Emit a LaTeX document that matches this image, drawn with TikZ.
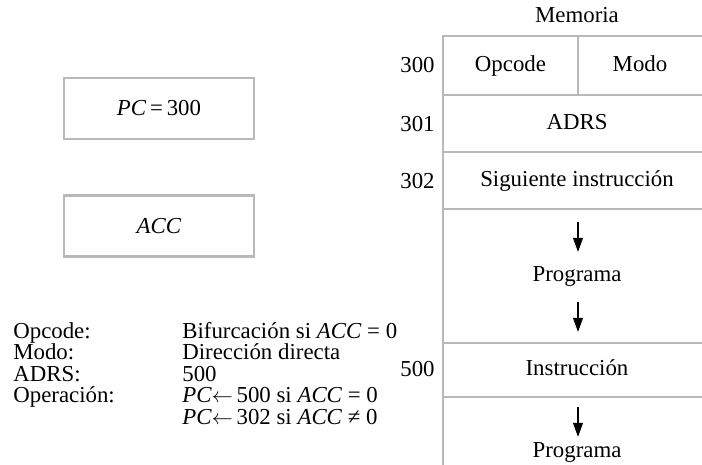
\documentclass[tikz,border=0pt]{standalone}
\usepackage{fontspec}
\setmainfont{Liberation Serif}
\usetikzlibrary{arrows.meta}
\definecolor{linegray}{RGB}{185,185,185}
\tikzset{
    reg/.style={rectangle, draw=linegray, line width=1.2pt, minimum width=3.8cm, minimum height=1.22cm, align=center},
    cell/.style={inner sep=0pt, text height=9pt, text depth=3pt},
    addr/.style={cell, anchor=east},
    note/.style={inner sep=0pt, text height=8.4pt, text depth=2.4pt, anchor=west},
    memline/.style={draw=linegray, line width=1.3pt},
    arrow/.style={line width=0.9pt, -{Triangle[length=8pt,width=5.5pt]}, draw=black}
}

\begin{document}
\begin{tikzpicture}[x=0.02cm, y=-0.02cm, font=\fontsize{13}{15.6}\selectfont]
    \useasboundingbox (0,0) rectangle (702,465);

    % registers
    \node (pc) [reg] at (159,108.5) {\textit{PC}\,=\,300};
    \node (acc) [reg] at (159,226) {\textit{ACC}};

    % memory words
    \draw [memline] (443,36) -- (443,465);
    \draw [memline, line width=1.7pt] (442.35,36) -- (702,36);
    \foreach \y in {95,152,209,343,397}
        \draw [memline] (443,\y) -- (702,\y);
    \draw [memline] (578,36) -- (578,95);

    \node (mem) [cell] at (577,17) {Memoria};
    \node (opc) [cell] at (510.5,66) {Opcode};
    \node (mod) [cell] at (640,66) {Modo};
    \node (adrs) [cell] at (577,124) {ADRS};
    \node (next) [cell] at (577,181) {Siguiente instrucción};
    \node (prog1) [cell] at (577,276) {Programa};
    \node (instr) [cell] at (577,370) {Instrucción};
    \node (prog2) [cell] at (577,452) {Programa};

    % addresses
    \node (a300) [addr] at (435,67) {300};
    \node (a301) [addr] at (435,126) {301};
    \node (a302) [addr] at (435,183) {302};
    \node (a500) [addr] at (435,371) {500};

    % program flow
    \foreach \s/\e [count=\i] in {222/252, 302/332, 407/437} {
        \coordinate (s\i) at (578,\s);
        \coordinate (e\i) at (578,\e);
        \draw [arrow] (s\i) -- (e\i);
    }

    % instruction fields
    \node (k1) [note] at (13,333) {Opcode:};
    \node (v1) [note] at (182,333) {Bifurcación si \textit{ACC} = 0};
    \node (k2) [note] at (13,354.5) {Modo:};
    \node (v2) [note] at (182,354.5) {Dirección directa};
    \node (k3) [note] at (13,376) {ADRS:};
    \node (v3) [note] at (182,376) {500};
    \node (k4) [note] at (13,397.5) {Operación:};
    \node (v4) [note] at (182,397.5) {\textit{PC}$\leftarrow$\,500 si \textit{ACC} = 0};
    \node (v5) [note] at (182,419) {\textit{PC}$\leftarrow$\,302 si \textit{ACC} ≠ 0};
\end{tikzpicture}
\end{document}
